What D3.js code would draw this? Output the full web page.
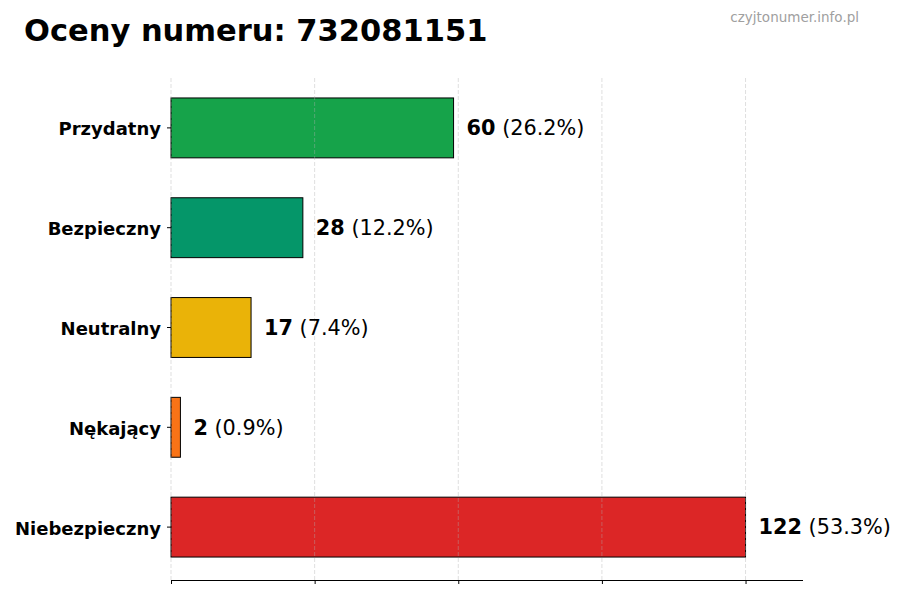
<!DOCTYPE html>
<html>
<head>
<meta charset="utf-8">
<script src="https://cdn.jsdelivr.net/npm/d3@7"></script>
<style>
  body { margin: 0; background: #fff; }
  svg { font-family: "DejaVu Sans", sans-serif; }
</style>
</head>
<body>
<div id="chart"></div>
<script>
// chart data
var categories = ["Przydatny", "Bezpieczny", "Neutralny", "Nękający", "Niebezpieczny"];
var counts = [60, 28, 17, 2, 122];
var percents = ["26.2%", "12.2%", "7.4%", "0.9%", "53.3%"];
var colors = ["#16a34a", "#059669", "#eab308", "#f97316", "#dc2626"];

var svgWidth = 900;
var svgHeight = 600;

var margin = { top: 78, right: 97, bottom: 20, left: 171 };
var width = svgWidth - margin.left - margin.right;
var height = 580 - margin.top;   // where the bottom spine sits
var bandHeight = 499;

var svg = d3.select("#chart")
  .append("svg")
  .attr("width", svgWidth)
  .attr("height", svgHeight);

var chartGroup = svg.append("g")
  .attr("transform", `translate(${margin.left}, ${margin.top})`);

var maxVal = d3.max(counts);

var xScale = d3.scaleLinear()
  .domain([0, maxVal * 1.1])
  .range([0, width]);

var yScale = d3.scaleBand()
  .domain(categories)
  .range([0, bandHeight])
  .paddingInner(0.4)
  .paddingOuter(0.2);

var xTicks = d3.range(5).map(i => maxVal * i / 4);

// bars
chartGroup.selectAll("rect.bar")
  .data(categories)
  .enter()
  .append("rect")
  .attr("class", "bar")
  .attr("x", xScale(0))
  .attr("y", d => yScale(d))
  .attr("width", (d, i) => xScale(counts[i]) - xScale(0))
  .attr("height", yScale.bandwidth())
  .attr("fill", (d, i) => colors[i])
  .attr("stroke", "#000")
  .attr("stroke-width", 1);

// grid lines on top of bars
chartGroup.selectAll("line.grid")
  .data(xTicks)
  .enter()
  .append("line")
  .attr("class", "grid")
  .attr("x1", d => xScale(d))
  .attr("x2", d => xScale(d))
  .attr("y1", 0)
  .attr("y2", height)
  .attr("stroke", "#b0b0b0")
  .attr("stroke-opacity", 0.5)
  .attr("stroke-dasharray", "4,2")
  .attr("stroke-width", 0.8);

// x axis, no labels
var bottomAxis = d3.axisBottom(xScale)
  .tickValues(xTicks)
  .tickSize(4)
  .tickFormat("");

var xAxis = chartGroup.append("g")
  .attr("transform", `translate(0, ${height})`)
  .call(bottomAxis);
xAxis.select(".domain").attr("d", `M0.5,0.5H${width}`).attr("stroke", "#000");
xAxis.selectAll(".tick line").attr("stroke", "#000");

// y axis, ticks and labels only
var leftAxis = d3.axisLeft(yScale)
  .tickSize(4)
  .tickPadding(6);

var yAxis = chartGroup.append("g").call(leftAxis);
yAxis.select(".domain").remove();
yAxis.selectAll(".tick line").attr("stroke", "#000");
yAxis.selectAll(".tick text")
  .attr("fill", "#000")
  .attr("dy", "0.42em")
  .attr("font-size", "18px")
  .attr("font-weight", "bold")
  .attr("font-family", "DejaVu Sans, sans-serif");

// value labels
var labels = chartGroup.selectAll("text.value")
  .data(categories)
  .enter()
  .append("text")
  .attr("class", "value")
  .attr("x", (d, i) => xScale(counts[i]) + 13)
  .attr("y", d => yScale(d) + yScale.bandwidth() / 2)
  .attr("dy", "0.35em")
  .attr("font-size", "20.8px")
  .attr("fill", "#000");

labels.append("tspan")
  .attr("font-weight", "bold")
  .text((d, i) => counts[i]);
labels.append("tspan")
  .text((d, i) => " (" + percents[i] + ")");

// title
svg.append("text")
  .attr("x", 24)
  .attr("y", 41)
  .attr("font-size", "30.5px")
  .attr("font-weight", "bold")
  .attr("fill", "#000")
  .text("Oceny numeru: 732081151");

// watermark
svg.append("text")
  .attr("x", 859)
  .attr("y", 22)
  .attr("text-anchor", "end")
  .attr("font-size", "13.5px")
  .attr("fill", "#a0a0a0")
  .text("czyjtonumer.info.pl");
</script>
</body>
</html>
